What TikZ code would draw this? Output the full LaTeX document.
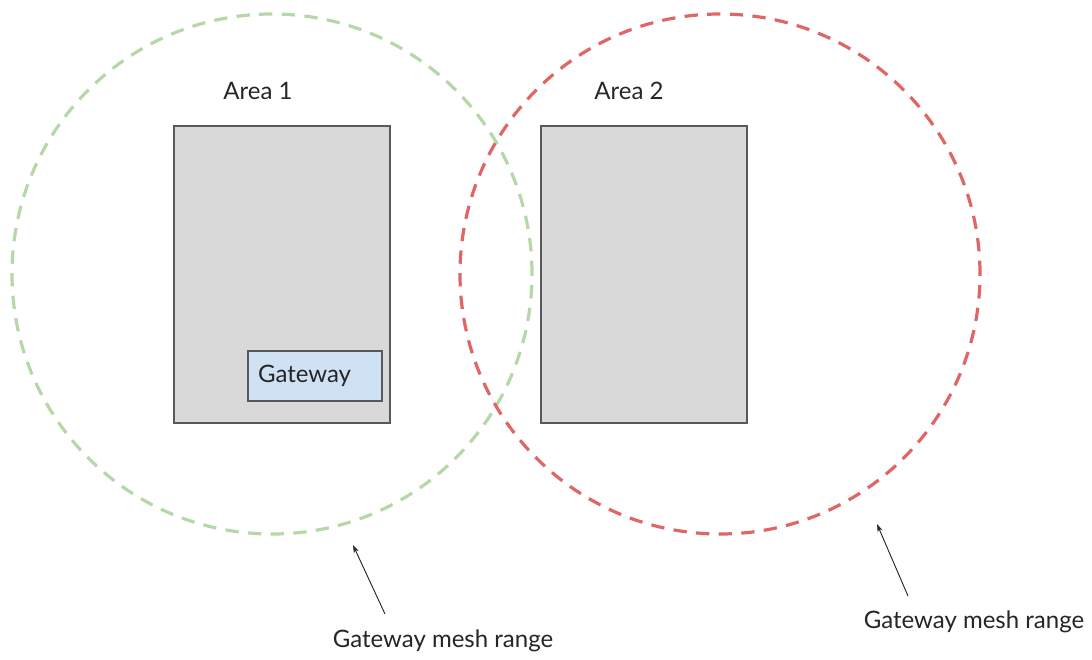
\documentclass[tikz,border=0pt]{standalone}
\usepackage{fontspec}
\setmainfont{Lato}
\usetikzlibrary{arrows.meta}
\definecolor{meshgreen}{HTML}{B6D7A8}
\definecolor{meshred}{HTML}{E06666}
\definecolor{areagrey}{HTML}{D9D9D9}
\definecolor{gwblue}{HTML}{CFE2F3}
\definecolor{edgegrey}{HTML}{595959}
\definecolor{txt}{HTML}{262626}
\tikzset{
  area/.style={draw=edgegrey,fill=areagrey,line width=1.1pt,minimum width=#1,minimum height=222.75pt,inner sep=0pt},
  range/.style={circle,draw=#1,line width=2.4pt,dash pattern=on 10pt off 7pt,minimum size=390pt,inner sep=0pt},
  lbl/.style={text=txt,font=\fontsize{18}{20}\selectfont,inner sep=0pt},
  pointer/.style={-{Stealth[length=6pt,width=4pt]},draw=txt,line width=0.7pt}
}
\begin{document}
\begin{tikzpicture}[x=0.75pt,y=-0.75pt]
  \useasboundingbox (0,0) rectangle (1092,660);

  \node[area=162pt] (area1) at (282,274.5) {};
  \node[area=154.5pt] (area2) at (644,274.5) {};
  \node[draw=edgegrey,fill=gwblue,line width=1.1pt,minimum height=37.5pt,
        text width=85.5pt,inner xsep=7.5pt,inner ysep=0pt,align=left,
        text=txt,font=\fontsize{18}{20}\selectfont] (gw) at (315,376) {\raisebox{-2.25pt}{Gateway}};

  \node[range=meshgreen] (range1) at (272,274) {};
  \node[range=meshred] (range2) at (720,274) {};

  \node[lbl] (lbl1) at (258,91) {Area 1};
  \node[lbl] (lbl2) at (629,91) {Area 2};

  \node[lbl] (mesh1) at (443,641) {Gateway mesh range};
  \node[lbl] (mesh2) at (974,622) {Gateway mesh range};

  \coordinate (tail1) at (385,614);
  \coordinate (tip1) at (353,545);
  \coordinate (tail2) at (908,596);
  \coordinate (tip2) at (877,524);
  \draw[pointer] (tail1) -- (tip1);
  \draw[pointer] (tail2) -- (tip2);

\end{tikzpicture}
\end{document}
